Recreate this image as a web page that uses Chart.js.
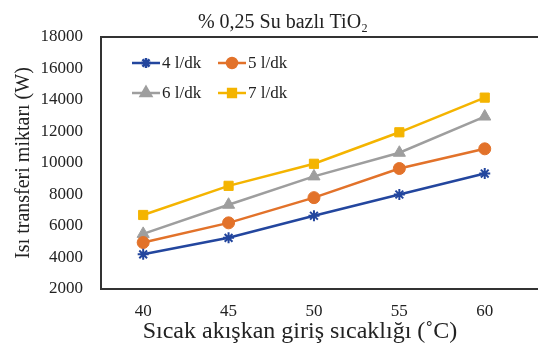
<!DOCTYPE html>
<html>
<head>
<meta charset="utf-8">
<script src="https://cdn.jsdelivr.net/npm/chart.js@4.4.0/dist/chart.umd.min.js"></script>
<style>
  html, body { margin: 0; padding: 0; background: #fff; overflow: hidden; }
  #wrap { width: 538px; height: 352px; }
</style>
</head>
<body>
<div id="wrap"><canvas id="heatChart" width="538" height="352"></canvas></div>
<script>
// values
var temps = [40, 45, 50, 55, 60];
var flow4 = [4200, 5250, 6650, 8000, 9330];
var flow5 = [4950, 6200, 7800, 9650, 10900];
var flow6 = [5500, 7350, 9150, 10650, 12950];
var flow7 = [6700, 8550, 9950, 11950, 14150];
var seriesNames = ['4 l/dk', '5 l/dk', '6 l/dk', '7 l/dk'];
var yTicks = [2000, 4000, 6000, 8000, 10000, 12000, 14000, 16000, 18000];
var chartTitle = '% 0,25 Su bazlı TiO₂';
var xTitle = 'Sıcak akışkan giriş sıcaklığı (˚C)';
var yTitle = 'Isı transferi miktarı (W)';

var serif = 'Liberation Serif, Times New Roman, serif';
var ink = '#222';

function pts(vals) {
    return temps.map(function(t, i) { return { x: t, y: vals[i] }; });
}

function mk(label, vals, color, style, radius) {
    return {
        label: label,
        data: pts(vals),
        borderColor: color,
        backgroundColor: color,
        pointBackgroundColor: color,
        pointBorderColor: color,
        pointStyle: style,
        pointRadius: radius,
        pointBorderWidth: style === 'star' ? 2 : 1,
        borderWidth: 2.5,
        tension: 0
    };
}

// box round the plot: top, left and bottom only (right side runs off the picture)
var frame = {
    id: 'frame',
    beforeDatasetsDraw: function(chart) {
        var a = chart.chartArea, c = chart.ctx;
        c.save();
        c.strokeStyle = '#333';
        c.lineWidth = 2;
        c.beginPath();
        c.moveTo(a.right + 20, a.top);
        c.lineTo(a.left, a.top);
        c.lineTo(a.left, a.bottom);
        c.lineTo(a.right + 20, a.bottom);
        c.stroke();
        c.restore();
    }
};

// chart title and x title, placed where the original has them
var texts = {
    id: 'texts',
    afterDraw: function(chart) {
        var c = chart.ctx;
        c.save();
        c.fillStyle = ink;
        c.textAlign = 'center';
        c.textBaseline = 'alphabetic';
        c.font = '20px ' + serif;
        c.fillText(chartTitle, 283, 28);
        c.font = '24px ' + serif;
        c.fillText(xTitle, 300, 338);
        c.restore();
    }
};

// legend in two rows inside the plot
var boxLegend = {
    id: 'boxLegend',
    afterDraw: function(chart) {
        var c = chart.ctx;
        var spots = [[132, 63], [218, 63], [132, 93], [218, 93]];
        c.save();
        chart.data.datasets.forEach(function(ds, i) {
            var x = spots[i][0], y = spots[i][1];
            c.strokeStyle = ds.borderColor;
            c.lineWidth = 2.5;
            c.beginPath();
            c.moveTo(x, y);
            c.lineTo(x + 28, y);
            c.stroke();
            c.fillStyle = ds.backgroundColor;
            c.strokeStyle = ds.borderColor;
            Chart.helpers.drawPoint(c, {
                pointStyle: ds.pointStyle,
                radius: ds.pointStyle === 'star' ? 5 : ds.pointRadius - 1,
                borderWidth: ds.pointBorderWidth,
                rotation: 0
            }, x + 14, y);
            c.fillStyle = ink;
            c.font = '17px ' + serif;
            c.textBaseline = 'middle';
            c.fillText(ds.label, x + 30, y + 1);
        });
        c.restore();
    }
};

var ctx = document.getElementById('heatChart').getContext('2d');
var heatChart = new Chart(ctx, {
    type: 'line',
    data: {
        datasets: [
            mk(seriesNames[0], flow4, '#23469E', 'star', 5.5),
            mk(seriesNames[1], flow5, '#E2722A', 'circle', 6),
            mk(seriesNames[2], flow6, '#9E9E9E', 'triangle', 7),
            mk(seriesNames[3], flow7, '#F4B400', 'rect', 6.5)
        ]
    },
    options: {
        responsive: false,
        animation: false,
        layout: { padding: { left: 0, right: 0, top: 37, bottom: 0 } },
        plugins: {
            legend: { display: false },
            tooltip: { enabled: false },
            title: { display: false }
        },
        scales: {
            x: {
                type: 'linear',
                min: 37.53,
                max: 62.65,
                grid: { display: false },
                border: { display: false },
                afterBuildTicks: function(axis) {
                    axis.ticks = temps.map(function(v) { return { value: v }; });
                },
                afterFit: function(axis) { axis.height = 63; },
                ticks: {
                    color: ink,
                    padding: 4,
                    font: { family: serif, size: 17 }
                },
                title: { display: false }
            },
            y: {
                min: 2000,
                max: 18000,
                grid: { display: false },
                border: { display: false },
                afterBuildTicks: function(axis) {
                    axis.ticks = yTicks.map(function(v) { return { value: v }; });
                },
                afterFit: function(axis) { axis.width = 101; },
                ticks: {
                    color: ink,
                    padding: 10,
                    font: { family: serif, size: 17 },
                    callback: function(v) { return String(v); }
                },
                title: {
                    display: true,
                    text: yTitle,
                    color: ink,
                    font: { family: serif, size: 20 },
                    padding: { top: 12, bottom: 0 }
                }
            }
        }
    },
    plugins: [frame, texts, boxLegend]
});
</script>
</body>
</html>
